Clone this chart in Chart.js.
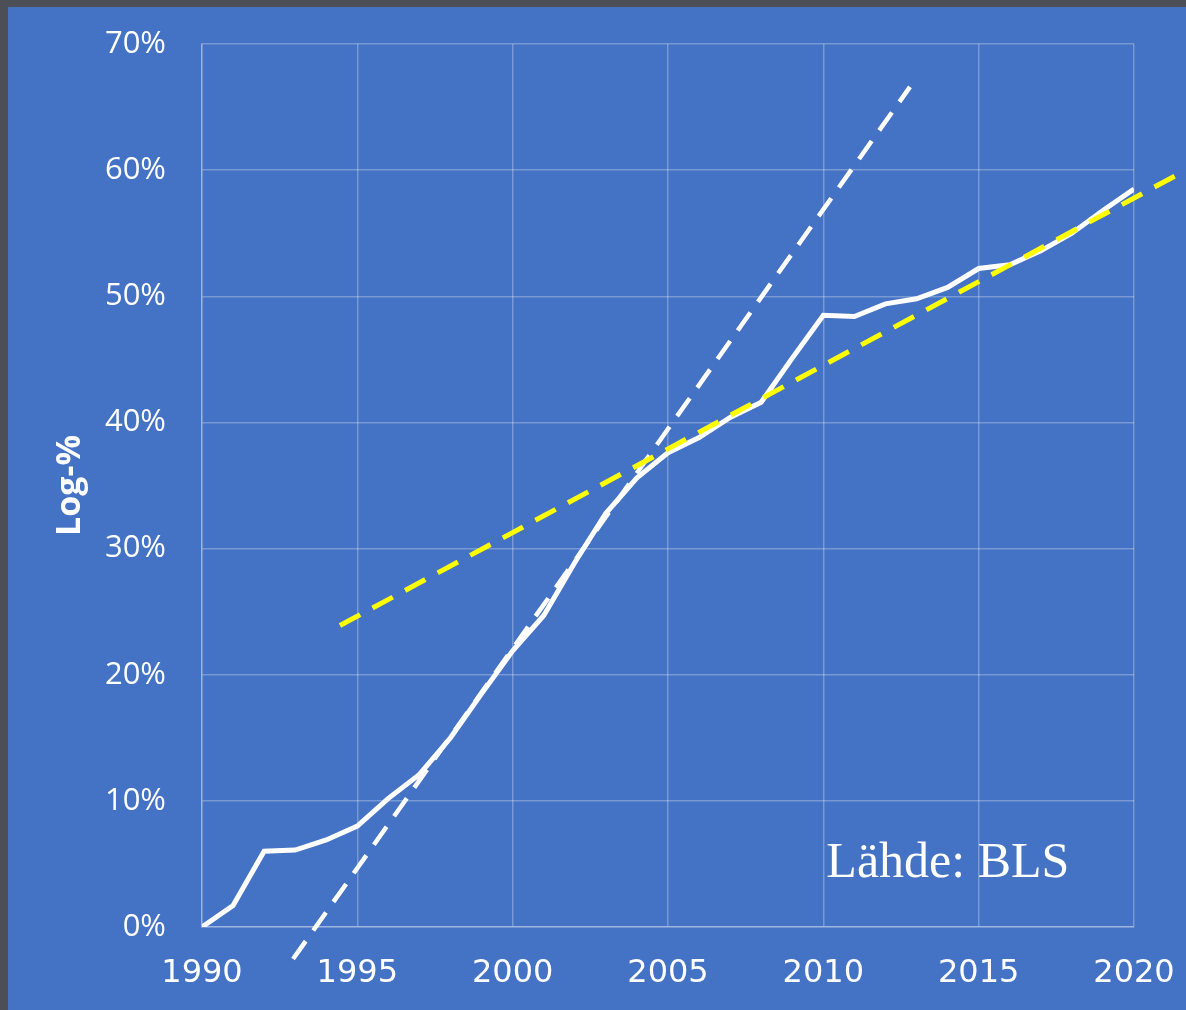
<!DOCTYPE html>
<html>
<head>
<meta charset="utf-8">
<script src="https://cdn.jsdelivr.net/npm/chart.js@4.4.1/dist/chart.umd.min.js"></script>
<style>
  html, body { margin: 0; padding: 0; }
  body { width: 1186px; height: 1010px; background: #4c4f55; overflow: hidden; position: relative; }
  #panel { position: absolute; left: 8px; top: 7px; width: 1178px; height: 1003px; background: #4472C4; }
  #chart { display: block; }
</style>
</head>
<body>
<div id="panel"><canvas id="chart" width="1178" height="1003"></canvas></div>
<script>
// vuodet ja log-% -arvot (luettu kuvasta)
const years = [1990, 1991, 1992, 1993, 1994, 1995, 1996, 1997, 1998, 1999,
               2000, 2001, 2002, 2003, 2004, 2005, 2006, 2007, 2008, 2009,
               2010, 2011, 2012, 2013, 2014, 2015, 2016, 2017, 2018, 2019, 2020];
const logPct = [0, 1.7, 6.0, 6.1, 6.9, 8.0, 10.2, 12.1, 15.0, 18.5,
                21.9, 24.7, 28.9, 32.8, 35.6, 37.6, 38.8, 40.4, 41.6, 45.1,
                48.5, 48.4, 49.4, 49.8, 50.7, 52.2, 52.5, 53.6, 55.0, 56.8, 58.5];

// trendiviivat: alku- ja loppupiste
const fastTrendX = [1992.93, 2012.79];
const fastTrendY = [-2.54, 66.6];
const slowTrendX = [1994.44, 2021.67];
const slowTrendY = [23.9, 60.0];

const xTicks = [1990, 1995, 2000, 2005, 2010, 2015, 2020];
const yTicks = [0, 10, 20, 30, 40, 50, 60, 70];

const toPoints = (xs, ys) => xs.map((x, i) => ({ x: x, y: ys[i] }));
const gridColor = 'rgba(255,255,255,0.28)';

// lähdeteksti
const sourceLabel = {
  id: 'sourceLabel',
  afterDraw(chart) {
    const { ctx, scales } = chart;
    ctx.save();
    ctx.font = '50px "Liberation Serif"';
    ctx.fillStyle = '#ffffff';
    ctx.textBaseline = 'alphabetic';
    ctx.fillText('Lähde: BLS', scales.x.getPixelForValue(2010) + 3, scales.y.getPixelForValue(4.0));
    ctx.restore();
  }
};

new Chart(document.getElementById('chart'), {
  type: 'line',
  data: {
    datasets: [
      {
        label: 'Log-%',
        data: toPoints(years, logPct),
        borderColor: '#ffffff',
        borderWidth: 5,
        pointRadius: 0,
        tension: 0,
        order: 3
      },
      {
        label: 'Trendi 1',
        data: toPoints(fastTrendX, fastTrendY),
        borderColor: '#ffffff',
        borderWidth: 4.5,
        borderDash: [22, 13],
        pointRadius: 0,
        clip: false,
        order: 2
      },
      {
        label: 'Trendi 2',
        data: toPoints(slowTrendX, slowTrendY),
        borderColor: '#ffff00',
        borderWidth: 5,
        borderDash: [23, 14],
        pointRadius: 0,
        clip: false,
        order: 1
      }
    ]
  },
  options: {
    responsive: false,
    animation: false,
    layout: { padding: { top: 37, right: 52, left: 0, bottom: 0 } },
    plugins: {
      legend: { display: false },
      tooltip: { enabled: false }
    },
    scales: {
      x: {
        type: 'linear',
        min: 1990,
        max: 2020,
        afterFit: s => {
          s.height = 83;
          s.paddingLeft = 0;
          s.paddingRight = 0;
        },
        afterBuildTicks: s => { s.ticks = xTicks.map(v => ({ value: v })); },
        ticks: {
          color: '#ffffff',
          padding: 27,
          font: { family: '"DejaVu Sans"', size: 32 },
          callback: v => String(v)
        },
        grid: { color: gridColor, lineWidth: 1.5, drawTicks: false },
        border: { color: gridColor, width: 1.5 }
      },
      y: {
        min: 0,
        max: 70,
        afterFit: s => {
          s.width = 194;
          s.paddingTop = 0;
          s.paddingBottom = 0;
        },
        afterBuildTicks: s => { s.ticks = yTicks.map(v => ({ value: v })); },
        ticks: {
          color: '#ffffff',
          padding: 36,
          font: { family: '"Open Sans"', size: 31 },
          callback: v => v + '%'
        },
        grid: { color: gridColor, lineWidth: 1.5, drawTicks: false },
        border: { color: gridColor, width: 1.5 },
        title: {
          display: true,
          text: 'Log-%',
          color: '#ffffff',
          font: { family: '"Open Sans"', size: 34, weight: 'bold' },
          padding: { top: 42, bottom: 0 }
        }
      }
    }
  },
  plugins: [sourceLabel]
});
</script>
</body>
</html>
